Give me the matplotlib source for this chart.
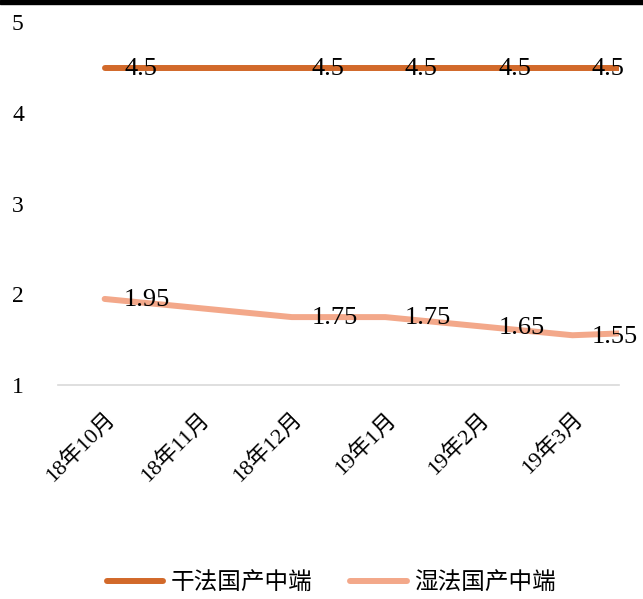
import matplotlib.pyplot as plt
from matplotlib.patches import Rectangle

plt.rcParams['font.family'] = ['Liberation Serif', 'Noto Sans CJK SC']

# monthly categories on the x axis
months = ['18年10月', '18年11月', '18年12月', '19年1月', '19年2月', '19年3月']
# positions of the observations along the category axis (last one runs to the edge)
obs_pos = [0, 2, 3, 4, 5, 5.5]
dry = [4.5, 4.5, 4.5, 4.5, 4.5, 4.5]
wet = [1.95, 1.75, 1.75, 1.65, 1.55, 1.57]
n_labelled = 5

dry_color = '#D2692A'
wet_color = '#F3A88A'

fig = plt.figure(figsize=(6.43, 5.99), dpi=100)
ax = fig.add_axes([0.090, 0.357, 0.873, 0.606])

ax.plot(obs_pos, dry, color=dry_color, lw=4.3, solid_capstyle='round',
        solid_joinstyle='round', label='干法国产中端')
ax.plot(obs_pos, wet, color=wet_color, lw=4.3, solid_capstyle='round',
        solid_joinstyle='round', label='湿法国产中端')

for series in (dry, wet):
    for x, v in zip(obs_pos[:n_labelled], series[:n_labelled]):
        ax.annotate(f'{v:g}', (x, v), xytext=(14, -1), textcoords='offset points',
                    ha='left', va='center', fontsize=19, color='black')

ax.set_xlim(-0.5, 5.5)
ax.set_ylim(1, 5)
ax.set_yticks([1, 2, 3, 4, 5])
ax.set_xticks(range(len(months)))
ax.set_xticklabels(months, rotation=45, ha='right', rotation_mode='anchor',
                   fontsize=16)
ax.tick_params(axis='x', length=0, pad=17)
ax.tick_params(axis='y', length=0, pad=33, labelsize=17)
for lbl in ax.get_yticklabels():
    lbl.set_horizontalalignment('left')

for side in ('top', 'right', 'left'):
    ax.spines[side].set_visible(False)
ax.spines['bottom'].set_color('#D9D9D9')
ax.spines['bottom'].set_linewidth(1.2)

fig.legend(loc='center', bbox_to_anchor=(0.515, 0.027), ncol=2, frameon=False,
           handlelength=2.4, columnspacing=1.6, handletextpad=0.3,
           prop={'family': ['Noto Sans CJK SC'], 'size': 17})

# thin dark band along the top edge
fig.patches.append(Rectangle((0, 0.993), 1, 0.007, transform=fig.transFigure,
                             color='black', zorder=10))

fig.savefig('out.png', dpi=100)
